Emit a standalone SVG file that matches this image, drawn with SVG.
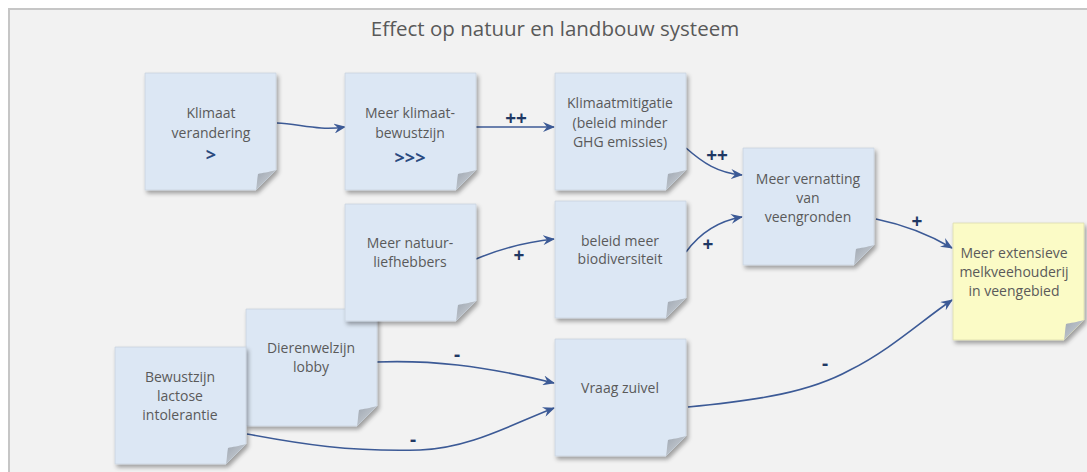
<svg xmlns="http://www.w3.org/2000/svg" width="1087" height="472" viewBox="0 0 1087 472">
  <defs>
    <style>
      .title { font-family: "Open Sans", "Liberation Sans", sans-serif; font-size: 20.5px; fill: #595959; text-anchor: middle; }
      .txt { font-family: "Open Sans", "Liberation Sans", sans-serif; font-size: 14px; fill: #5a5a5a; text-anchor: middle; }
      .sym { font-family: "Open Sans", "Liberation Sans", sans-serif; font-size: 18px; font-weight: bold; fill: #2a4a7f; text-anchor: middle; }
      .lbl { font-family: "Open Sans", "Liberation Sans", sans-serif; font-size: 19px; font-weight: bold; fill: #1f3864; text-anchor: middle; }
      .edge { fill: none; stroke: #3c5a96; stroke-width: 1.6; marker-end: url(#arrow); }
      .blue { fill: #dce7f4; stroke: #c9d3de; stroke-width: 0.8; }
      .yellow { fill: #fbfbc6; stroke: #dcdcae; stroke-width: 0.8; }
      .fold { fill: url(#foldGrad); }
    </style>
    <linearGradient id="foldGrad" x1="0" y1="0" x2="1" y2="1">
      <stop offset="0" stop-color="#9ea6b0"/>
      <stop offset="1" stop-color="#d3d8de"/>
    </linearGradient>
    <filter id="shadow" x="-10%" y="-10%" width="130%" height="130%">
      <feDropShadow dx="2" dy="3" stdDeviation="2" flood-color="#000" flood-opacity="0.35"/>
    </filter>
    <marker id="arrow" viewBox="0 0 12 10" refX="11" refY="5" markerWidth="12" markerHeight="10" markerUnits="userSpaceOnUse" orient="auto">
      <path d="M0,0 L12,5 L0,10 L4,5 z" fill="#3c5a96"/>
    </marker>
    <!-- sticky note body with cut bottom-right corner, 131 x 117 -->
    <path id="noteBody" d="M0,0 H131 V97 L111,117 H0 Z"/>
    <path id="noteFold" d="M131,97 C124,99 117,100 113,101 C112,106 112,112 111,117 Z"/>
  </defs>

  <!-- canvas -->
  <rect x="0" y="0" width="1087" height="472" fill="#ffffff"/>
  <rect x="9" y="9" width="1090" height="475" fill="#f2f2f2" stroke="#c6c6c6" stroke-width="2"/>
  <text class="title" x="555" y="36">Effect op natuur en landbouw systeem</text>

  <!-- connectors -->
  <g id="connectors">
    <path class="edge" d="M277,123 C300,124 318,131 345,127"/>
    <path class="edge" d="M475,127 L554,127"/>
    <path class="edge" d="M686,148 C703,163 718,173 742,175"/>
    <path class="edge" d="M686,252 C700,233 718,221 742,217"/>
    <path class="edge" d="M476,259 C500,249 525,242 554,239"/>
    <path class="edge" d="M876,219 C905,225 930,235 952,248"/>
    <path class="edge" d="M688,407 C760,400 810,392 850,370 C890,350 920,322 952,300"/>
    <path class="edge" d="M376,362 C430,360 480,365 554,383"/>
    <path class="edge" d="M247,434 C300,444 350,452 420,450 C470,448 510,425 554,408"/>
    <text class="lbl" x="516" y="125">++</text>
    <text class="lbl" x="717" y="162">++</text>
    <text class="lbl" x="708" y="251">+</text>
    <text class="lbl" x="519" y="262">+</text>
    <text class="lbl" x="917" y="228">+</text>
    <text class="lbl" x="825" y="370">-</text>
    <text class="lbl" x="457" y="361">-</text>
    <text class="lbl" x="413" y="446">-</text>
  </g>

  <!-- nodes -->
  <g id="klimaatverandering" transform="translate(145,73)">
    <use href="#noteBody" class="blue" filter="url(#shadow)"/>
    <use href="#noteFold" class="fold"/>
    <text class="txt" x="66" y="45">Klimaat</text>
    <text class="txt" x="66" y="65">verandering</text>
    <text class="sym" x="66" y="88">&gt;</text>
  </g>

  <g id="klimaatbewustzijn" transform="translate(345,73)">
    <use href="#noteBody" class="blue" filter="url(#shadow)"/>
    <use href="#noteFold" class="fold"/>
    <text class="txt" x="65" y="45">Meer klimaat-</text>
    <text class="txt" x="65" y="65">bewustzijn</text>
    <text class="sym" x="65" y="91">&gt;&gt;&gt;</text>
  </g>

  <g id="klimaatmitigatie" transform="translate(555,73)">
    <use href="#noteBody" class="blue" filter="url(#shadow)"/>
    <use href="#noteFold" class="fold"/>
    <text class="txt" x="65" y="35">Klimaatmitigatie</text>
    <text class="txt" x="65" y="55">(beleid minder</text>
    <text class="txt" x="65" y="74">GHG emissies)</text>
  </g>

  <g id="vernatting" transform="translate(743,148)">
    <use href="#noteBody" class="blue" filter="url(#shadow)"/>
    <use href="#noteFold" class="fold"/>
    <text class="txt" x="65" y="36">Meer vernatting</text>
    <text class="txt" x="65" y="55">van</text>
    <text class="txt" x="65" y="74">veengronden</text>
  </g>

  <g id="extensieve-melkveehouderij" transform="translate(953,223)">
    <use href="#noteBody" class="yellow" filter="url(#shadow)"/>
    <use href="#noteFold" class="fold"/>
    <text class="txt" x="61" y="35">Meer extensieve</text>
    <text class="txt" x="61" y="54">melkveehouderij</text>
    <text class="txt" x="61" y="73">in veengebied</text>
  </g>

  <g id="beleid-biodiversiteit" transform="translate(555,201)">
    <use href="#noteBody" class="blue" filter="url(#shadow)"/>
    <use href="#noteFold" class="fold"/>
    <text class="txt" x="65" y="45">beleid meer</text>
    <text class="txt" x="65" y="63">biodiversiteit</text>
  </g>

  <g id="vraag-zuivel" transform="translate(555,339)">
    <use href="#noteBody" class="blue" filter="url(#shadow)"/>
    <use href="#noteFold" class="fold"/>
    <text class="txt" x="65" y="54">Vraag zuivel</text>
  </g>

  <g id="dierenwelzijn" transform="translate(246,309)">
    <use href="#noteBody" class="blue" filter="url(#shadow)"/>
    <use href="#noteFold" class="fold"/>
    <text class="txt" x="65" y="44">Dierenwelzijn</text>
    <text class="txt" x="65" y="63">lobby</text>
  </g>

  <g id="natuurliefhebbers" transform="translate(345,204)">
    <use href="#noteBody" class="blue" filter="url(#shadow)"/>
    <use href="#noteFold" class="fold"/>
    <text class="txt" x="65" y="44">Meer natuur-</text>
    <text class="txt" x="65" y="63">liefhebbers</text>
  </g>

  <g id="lactose-intolerantie" transform="translate(115,347)">
    <use href="#noteBody" class="blue" filter="url(#shadow)"/>
    <use href="#noteFold" class="fold"/>
    <text class="txt" x="65" y="35">Bewustzijn</text>
    <text class="txt" x="65" y="54">lactose</text>
    <text class="txt" x="65" y="73">intolerantie</text>
  </g>
</svg>
